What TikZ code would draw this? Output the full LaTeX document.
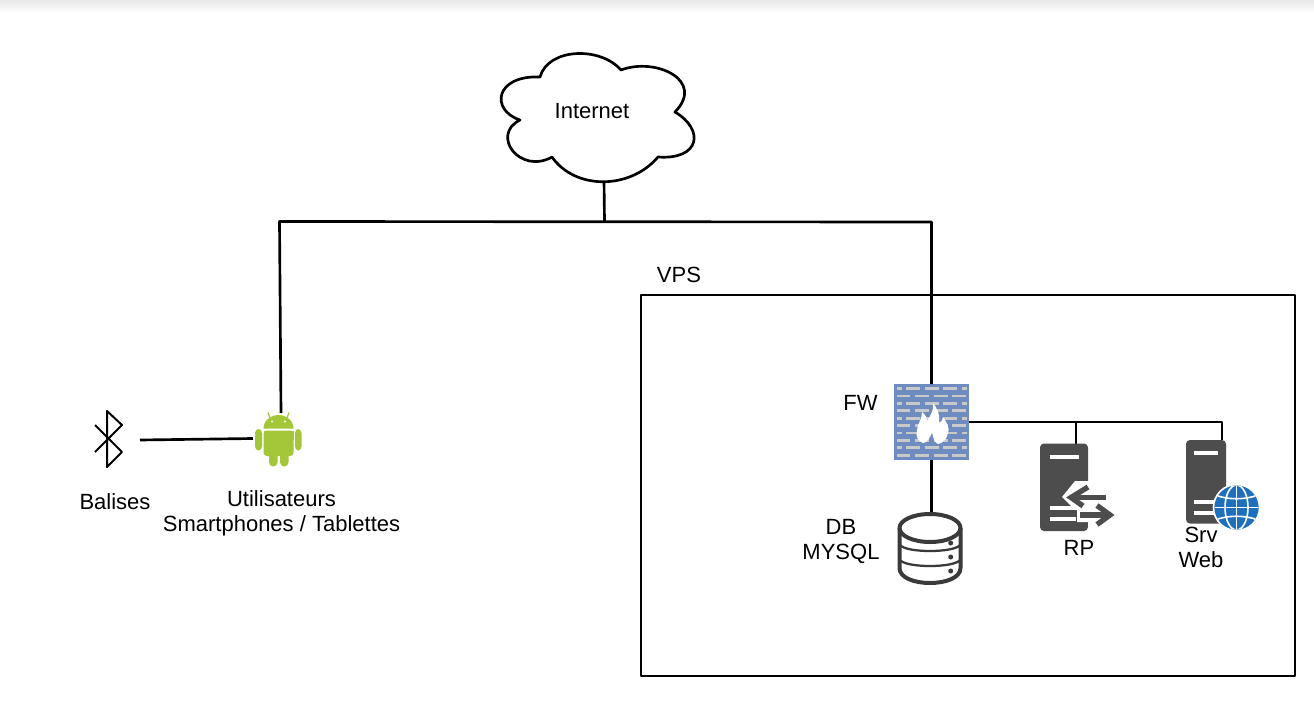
\documentclass[tikz,border=0pt]{standalone}
\usepackage{fontspec}
\setmainfont{Liberation Sans}
\definecolor{andr}{HTML}{A4C639}
\definecolor{srv}{HTML}{4D4D4D}
\definecolor{fwb}{HTML}{6E8CC0}
\definecolor{brick}{HTML}{C9C9C9}
\definecolor{glb}{HTML}{1F70BC}
\definecolor{dbc}{HTML}{3A3A3A}
\tikzset{
  wire/.style={draw=black,line width=2pt},
  lbl/.style={font=\fontsize{16.5}{18}\selectfont,text=black,inner sep=0pt,align=center},
  anchorbox/.style={inner sep=0pt,outer sep=0pt},
  brickline/.style={draw=brick,line width=2.2pt},
  slot/.style={draw=white,line width=3pt},
}
\begin{document}
\begin{tikzpicture}[x=0.75pt,y=-0.75pt,line join=round]
\useasboundingbox (0,0) rectangle (1314,703);
\fill[white] (0,0) rectangle (1314,703);
\shade[top color=black!9,bottom color=white] (0,0) rectangle (1314,13);

% ---- anchor nodes
\node[anchorbox,minimum width=56.25pt,minimum height=57pt,fill=fwb] (fw) at (931.5,422) {};
\node[anchorbox,minimum width=48pt,minimum height=54pt] (db) at (930,547.5) {};
\node[anchorbox,minimum width=36pt,minimum height=66pt] (rp) at (1064,487) {};
\node[anchorbox,minimum width=30pt,minimum height=62pt] (web) at (1206,481.5) {};
\node[anchorbox,minimum width=35pt,minimum height=39pt] (android) at (278,439.5) {};
\node[anchorbox,minimum width=21pt,minimum height=42pt] (bt) at (114,439) {};
\node[anchorbox,minimum width=490.5pt,minimum height=285.75pt,draw=black,line width=2pt] (vps) at (968,485.5) {};
\coordinate (cloudb) at (604,180);
\coordinate (busm) at (604.5,221.5);
\coordinate (busl) at (279.5,221.5);
\coordinate (busr) at (931.5,222);
\coordinate (andtop) at (281,413);
\coordinate (btr) at (140,440);
\coordinate (andl) at (253,438.5);
\coordinate (fwr) at (969,422);
\coordinate (rptop) at (1076,422);

% ---- wires
\draw[wire] (cloudb) -- (busm);
\draw[wire] (andtop) -- (busl) -- (busr) -- (fw.north -| busr);
\draw[wire] (btr) -- (andl);
\draw[wire] (fw.south) -- (fw.south |- db.north);
\draw[wire] (fwr) -- (1222,422) -- (1222,440);
\draw[wire] (rptop) -- (1076,444);

% ---- cloud
\draw[draw=black,line width=2pt,fill=white]
  (540,77) .. controls (548,48) and (600,46) .. (621,70)
  .. controls (655,57) and (706,80) .. (675,112)
  .. controls (705,130) and (700,160) .. (658,157)
  .. controls (630,190) and (575,190) .. (552,157)
  .. controls (520,175) and (490,135) .. (520,120)
  .. controls (490,110) and (495,75) .. (540,77) -- cycle;
\node[lbl] (inet) at (592,111) {Internet};

% ---- bluetooth
\draw[draw=black,line width=1.5pt] (95,452) -- (122,425) -- (107,411) -- (107,467) -- (122,452) -- (95,425);

% ---- android
\fill[andr] (263.5,428.5) arc[start angle=180,end angle=360,x radius=15,y radius=13.5] -- cycle;
\draw[andr,line width=0.9pt] (270,418) -- (268,412.5) (287,418) -- (289,412.5);
\fill[white] (272,421.5) circle[radius=1.2] (285,421.5) circle[radius=1.2];
\fill[andr,rounded corners=2.5pt] (263.5,430.5) rectangle (293.5,456);
\fill[andr] (263.5,430.5) rectangle (293.5,440);
\fill[andr,rounded corners=3pt] (255,429) rectangle (262,450.5);
\fill[andr,rounded corners=3pt] (295,429) rectangle (301.5,450.5);
\fill[andr,rounded corners=3.2pt] (269,450) rectangle (277.5,466.5);
\fill[andr,rounded corners=3.2pt] (280,450) rectangle (288.5,466.5);

% ---- firewall
\foreach \y in {388.7,403.4,418.2,433,447.7}{
  \draw[brickline] (897,\y) -- (902,\y) (906,\y) -- (920,\y) (924.5,\y) -- (938.5,\y) (943,\y) -- (957,\y) (961.5,\y) -- (966.5,\y);
}
\foreach \y in {396,410.8,425.6,440.3,455.2}{
  \draw[brickline] (897,\y) -- (910,\y) (915,\y) -- (929,\y) (933.5,\y) -- (947.5,\y) (952,\y) -- (966,\y);
}
\fill[white] (938,444) .. controls (934,442) and (933,437) .. (932,432)
  .. controls (930,438) and (927,443) .. (923,443)
  .. controls (918,441) and (915,436) .. (917,430)
  .. controls (918,423) and (922,419) .. (922,412)
  .. controls (926,415) and (927,419) .. (927,421)
  .. controls (931,415) and (934,410) .. (933,403)
  .. controls (937,408) and (940,414) .. (939,423)
  .. controls (941,422) and (943,420) .. (943,417)
  .. controls (947,423) and (950,428) .. (948,433)
  .. controls (947,439) and (943,443) .. (938,444) -- cycle;

% ---- database
\begin{scope}[draw=dbc,line width=3pt]
\draw (899.5,528) -- (899.5,568) .. controls (899.5,588) and (960.5,588) .. (960.5,568) -- (960.5,528);
\draw (930,528) ellipse[x radius=30.5,y radius=14];
\draw[line width=1.7pt] (900,545) .. controls (906,553) and (954,553) .. (960,545);
\draw[line width=1.7pt] (900,560) .. controls (906,568) and (954,568) .. (960,560);
\end{scope}
\fill[dbc] (950.7,543) circle[radius=2.5] (950.7,557) circle[radius=2.5] (950.7,571) circle[radius=2.5];

% ---- RP server
\fill[srv,rounded corners=3pt] (1040,443.5) rectangle (1088,531);
\draw[slot] (1049.5,457) -- (1079,457);
\draw[slot] (1049.5,508) -- (1076,508);
\draw[slot] (1049.5,519) -- (1076,519);
\fill[white] (1088,481) -- (1075,481) -- (1062,497) -- (1075,510) -- (1077,510) -- (1077,522) -- (1116,522) -- (1116,505) -- (1108,505) -- (1108,481) -- cycle;
\fill[white] (1088,522) rectangle (1100,530);
\draw[srv,line width=4pt,line join=miter] (1088,487) -- (1071,497.5) -- (1083,506);
\draw[srv,line width=4pt] (1073,497.5) -- (1106,497.5);
\draw[srv,line width=4pt,line join=miter] (1097,505.5) -- (1110,515) -- (1097,524.5);
\draw[srv,line width=4pt] (1080,515) -- (1108,515);

% ---- web server
\fill[srv,rounded corners=3pt] (1186,440) rectangle (1226,523.5);
\draw[slot] (1193.5,452.5) -- (1218,452.5);
\draw[slot] (1193.5,502) -- (1214,502);
\draw[slot] (1193.5,513) -- (1214,513);
\fill[glb,draw=white,line width=1.2pt] (1236.5,507.5) circle[radius=23];
\begin{scope}
\clip (1236.5,507.5) circle[radius=22];
\draw[white,line width=1.2pt] (1236.5,485) -- (1236.5,530);
\draw[white,line width=1.2pt] (1236.5,507.5) ellipse[x radius=11.5,y radius=22.5];
\draw[white,line width=1.2pt] (1213,507.5) -- (1260,507.5);
\draw[white,line width=1.2pt] (1215,495) .. controls (1228,500) and (1245,500) .. (1258,495);
\draw[white,line width=1.2pt] (1215,520) .. controls (1228,515) and (1245,515) .. (1258,520);
\end{scope}

% ---- labels
\node[lbl] (vpsl) at (679,275) {VPS};
\node[lbl] (fwl) at (860.5,403) {FW};
\node[lbl] (dbl) at (841,527) {DB};
\node[lbl] (mysql) at (841,554) {MYSQL};
\node[lbl] (rpl) at (1079,548) {RP};
\node[lbl] (srvl) at (1201,535) {Srv};
\node[lbl] (webl) at (1201,560) {Web};
\node[lbl] (bal) at (115,502) {Balises};
\node[lbl] (usr) at (281.5,499) {Utilisateurs};
\node[lbl] (smt) at (281.5,526) {Smartphones / Tablettes};
\end{tikzpicture}
\end{document}
